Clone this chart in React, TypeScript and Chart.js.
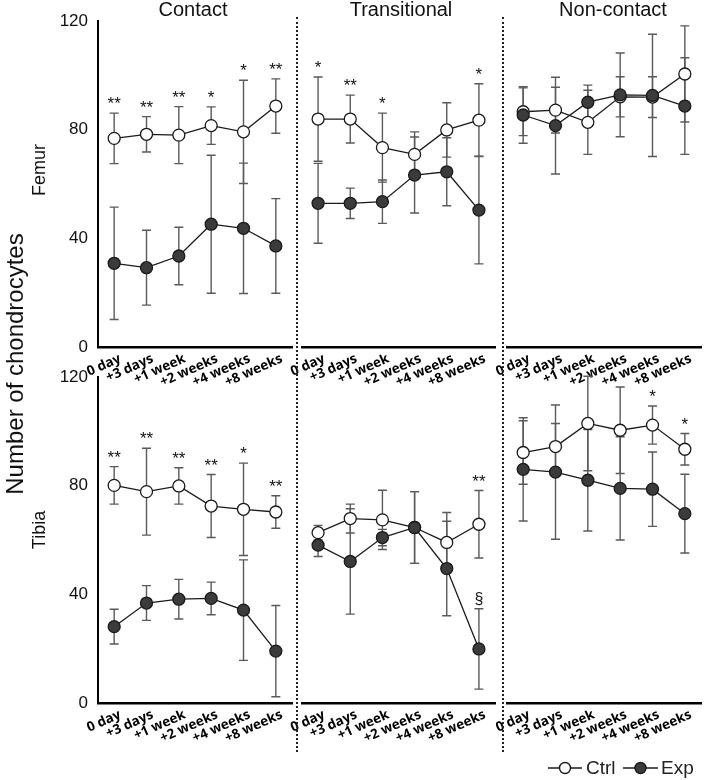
import React, { useEffect, useRef } from 'react';
import { Chart, registerables } from 'chart.js';

Chart.register(...registerables);

// ---------- data ----------
const categories = ['0 day', '+3 days', '+1 week', '+2 weeks', '+4 weeks', '+8 weeks'];
const yTickValues = [0, 40, 80, 120];
const columnTitles = ['Contact', 'Transitional', 'Non-contact'];
const rowTitles = ['Femur', 'Tibia'];
const seriesNames = ['Ctrl', 'Exp'];

// Femur
const femurContactCtrl = [76.8, 78.3, 78.0, 81.5, 79.2, 88.7];
const femurContactCtrlSd = [9.3, 6.5, 10.5, 6.9, 19.0, 10.0];
const femurContactExp = [30.8, 29.2, 33.5, 45.2, 43.7, 37.2];
const femurContactExpSd = [20.7, 13.8, 10.6, 25.4, 24.0, 17.4];
const femurContactSig = ['**', '**', '**', '*', '*', '**'];

const femurTransCtrl = [83.9, 83.9, 73.4, 70.9, 79.9, 83.5];
const femurTransCtrlSd = [15.5, 8.8, 12.7, 8.3, 10.0, 13.4];
const femurTransExp = [52.9, 52.9, 53.5, 63.3, 64.5, 50.4];
const femurTransExpSd = [14.7, 5.6, 8.0, 14.0, 12.5, 19.8];
const femurTransSig = ['*', '**', '*', '', '', '*'];

const femurNonCtrl = [86.6, 87.2, 82.7, 92.1, 92.0, 100.5];
const femurNonCtrlSd = [8.8, 8.4, 11.8, 7.4, 7.5, 17.7];
const femurNonExp = [85.4, 81.5, 90.1, 92.8, 92.6, 88.7];
const femurNonExpSd = [10.4, 17.8, 6.3, 15.4, 22.5, 17.8];
const femurNonSig = ['', '', '', '', '', ''];

// Tibia
const tibiaContactCtrl = [80.1, 77.8, 79.9, 72.5, 71.3, 70.3];
const tibiaContactCtrlSd = [6.9, 16.0, 6.7, 11.6, 17.0, 6.0];
const tibiaContactExp = [28.1, 36.8, 38.2, 38.5, 34.2, 19.1];
const tibiaContactExpSd = [6.4, 6.4, 7.3, 6.0, 18.5, 16.8];
const tibiaContactSig = ['**', '**', '**', '**', '*', '**'];

const tibiaTransCtrl = [62.7, 67.9, 67.4, 64.6, 59.1, 65.8];
const tibiaTransCtrlSd = [2.7, 5.3, 10.9, 13.2, 11.0, 12.4];
const tibiaTransExp = [58.1, 52.1, 60.9, 64.6, 49.5, 19.9];
const tibiaTransExpSd = [4.2, 19.4, 3.0, 13.2, 17.4, 14.8];
const tibiaTransSig = ['', '', '', '', '', '**'];
const tibiaTransExpSig = ['', '', '', '', '', '§'];

const tibiaNonCtrl = [92.2, 94.4, 102.9, 100.4, 102.3, 93.4];
const tibiaNonCtrlSd = [11.7, 8.5, 17.4, 15.9, 7.0, 5.8];
const tibiaNonExp = [86.0, 85.0, 82.0, 79.0, 78.7, 69.7];
const tibiaNonExpSd = [19.0, 24.7, 18.7, 19.0, 13.7, 14.5];
const tibiaNonSig = ['', '', '', '', '*', '*'];

const noSig = ['', '', '', '', '', ''];

// ---------- layout ----------
const W = 709;
const H = 780;
const COLS: [number, number][] = [[98, 292], [302, 495], [507, 701]];
const ROWS: [number, number][] = [[21, 347], [377, 703]];
const FONT = '"Liberation Sans", Arial, sans-serif';

type Panel = {
  row: number; col: number;
  ctrl: number[]; ctrlSd: number[]; exp: number[]; expSd: number[];
  sig: string[]; expSig: string[];
};

const PANELS: Panel[] = [
  { row: 0, col: 0, ctrl: femurContactCtrl, ctrlSd: femurContactCtrlSd, exp: femurContactExp, expSd: femurContactExpSd, sig: femurContactSig, expSig: noSig },
  { row: 0, col: 1, ctrl: femurTransCtrl, ctrlSd: femurTransCtrlSd, exp: femurTransExp, expSd: femurTransExpSd, sig: femurTransSig, expSig: noSig },
  { row: 0, col: 2, ctrl: femurNonCtrl, ctrlSd: femurNonCtrlSd, exp: femurNonExp, expSd: femurNonExpSd, sig: femurNonSig, expSig: noSig },
  { row: 1, col: 0, ctrl: tibiaContactCtrl, ctrlSd: tibiaContactCtrlSd, exp: tibiaContactExp, expSd: tibiaContactExpSd, sig: tibiaContactSig, expSig: noSig },
  { row: 1, col: 1, ctrl: tibiaTransCtrl, ctrlSd: tibiaTransCtrlSd, exp: tibiaTransExp, expSd: tibiaTransExpSd, sig: tibiaTransSig, expSig: tibiaTransExpSig },
  { row: 1, col: 2, ctrl: tibiaNonCtrl, ctrlSd: tibiaNonCtrlSd, exp: tibiaNonExp, expSd: tibiaNonExpSd, sig: tibiaNonSig, expSig: noSig },
];

const LINE = '#1a1a1a';
const EXP_FILL = '#3b3b3b';
const ERR = '#5a5a5a';

function makeChart(canvas: HTMLCanvasElement, p: Panel, withLegend: boolean) {
  const [c0, c1] = COLS[p.col];
  const [r0, r1] = ROWS[p.row];
  const showY = p.col === 0;

  const errorBars = {
    id: 'errorBars',
    beforeDatasetsDraw(chart: any) {
      const ctx = chart.ctx;
      const xs = chart.scales.x;
      const ys = chart.scales.y;
      ctx.save();
      ctx.strokeStyle = ERR;
      ctx.lineWidth = 1.4;
      const sets: [number[], number[]][] = [[p.ctrl, p.ctrlSd], [p.exp, p.expSd]];
      sets.forEach(([vals, sds]) => {
        vals.forEach((v, i) => {
          const x = xs.getPixelForValue(i);
          const yTop = ys.getPixelForValue(v + sds[i]);
          const yBot = ys.getPixelForValue(v - sds[i]);
          ctx.beginPath();
          ctx.moveTo(x, yTop); ctx.lineTo(x, yBot);
          ctx.moveTo(x - 4.5, yTop); ctx.lineTo(x + 4.5, yTop);
          ctx.moveTo(x - 4.5, yBot); ctx.lineTo(x + 4.5, yBot);
          ctx.stroke();
        });
      });
      ctx.restore();
    },
  };

  const labelsPlugin = {
    id: 'labelsPlugin',
    afterDraw(chart: any) {
      const ctx = chart.ctx;
      const xs = chart.scales.x;
      const ys = chart.scales.y;
      const bottom = chart.chartArea.bottom;
      ctx.save();
      // rotated category labels
      ctx.font = 'bold 13.5px "Open Sans", sans-serif';
      ctx.fillStyle = '#000';
      ctx.textAlign = 'right';
      ctx.textBaseline = 'middle';
      categories.forEach((lab, i) => {
        const x = xs.getPixelForValue(i);
        ctx.save();
        ctx.translate(x + 6, bottom + 11);
        ctx.rotate(-24 * Math.PI / 180);
        ctx.fillText(lab, 0, 0);
        ctx.restore();
      });
      // significance marks
      ctx.textAlign = 'center';
      ctx.textBaseline = 'alphabetic';
      p.sig.forEach((s, i) => {
        if (!s) return;
        const ub = Math.max(p.ctrl[i] + p.ctrlSd[i], p.exp[i] + p.expSd[i]);
        const x = xs.getPixelForValue(i);
        const y = ys.getPixelForValue(ub);
        ctx.font = `17px ${FONT}`;
        ctx.fillStyle = '#111';
        ctx.fillText(s, x, y - 4);
      });
      p.expSig.forEach((s, i) => {
        if (!s) return;
        const x = xs.getPixelForValue(i);
        const y = ys.getPixelForValue(p.exp[i] + p.expSd[i]);
        ctx.font = `16px ${FONT}`;
        ctx.fillStyle = '#111';
        ctx.fillText(s, x, y - 5);
      });
      // legend
      if (withLegend) {
        const ly = 768;
        const items = [
          { name: seriesNames[0], x0: 548, x1: 582, fill: '#fff', tx: 586 },
          { name: seriesNames[1], x0: 623, x1: 658, fill: EXP_FILL, tx: 661 },
        ];
        items.forEach((it) => {
          ctx.strokeStyle = LINE;
          ctx.lineWidth = 1.4;
          ctx.beginPath();
          ctx.moveTo(it.x0, ly); ctx.lineTo(it.x1, ly);
          ctx.stroke();
          ctx.beginPath();
          ctx.arc((it.x0 + it.x1) / 2, ly, 5.5, 0, Math.PI * 2);
          ctx.fillStyle = it.fill;
          ctx.fill();
          ctx.stroke();
          ctx.fillStyle = '#222';
          ctx.font = `19px ${FONT}`;
          ctx.textAlign = 'left';
          ctx.textBaseline = 'middle';
          ctx.fillText(it.name, it.tx, ly + 1);
        });
      }
      ctx.restore();
    },
  };

  return new Chart(canvas, {
    type: 'line',
    data: {
      labels: categories,
      datasets: [
        {
          label: seriesNames[0], data: p.ctrl, order: 1,
          borderColor: LINE, borderWidth: 1.3, tension: 0, fill: false,
          pointRadius: 6, pointBorderWidth: 1.3, pointBackgroundColor: '#fff', pointBorderColor: LINE,
        },
        {
          label: seriesNames[1], data: p.exp, order: 0,
          borderColor: LINE, borderWidth: 1.3, tension: 0, fill: false,
          pointRadius: 6, pointBorderWidth: 1.3, pointBackgroundColor: EXP_FILL, pointBorderColor: LINE,
        },
      ],
    },
    options: {
      responsive: false,
      maintainAspectRatio: false,
      animation: false,
      events: [],
      devicePixelRatio: 1,
      layout: { padding: { left: showY ? 0 : c0, right: W - c1, top: r0, bottom: H - r1 } },
      plugins: { legend: { display: false }, tooltip: { enabled: false } },
      scales: {
        x: {
          type: 'category',
          offset: true,
          grid: { display: true, color: 'rgba(0,0,0,0)', drawTicks: false },
          border: { display: true, color: '#000', width: 2.5 },
          ticks: { display: false },
          afterFit: (s: any) => { s.height = 0; },
        },
        y: {
          min: 0, max: 120,
          display: showY,
          afterBuildTicks: (s: any) => { s.ticks = yTickValues.map((v) => ({ value: v })); },
          ticks: { padding: 10, color: '#111', font: { size: 17, family: FONT } },
          grid: { display: true, color: 'rgba(0,0,0,0)', drawTicks: false },
          border: { display: true, color: '#000', width: 2 },
          afterFit: (s: any) => { s.width = showY ? c0 : 0; },
        },
      },
    } as any,
    plugins: [errorBars, labelsPlugin],
  });
}

const txt = (extra: React.CSSProperties): React.CSSProperties => ({
  position: 'absolute', fontFamily: FONT, color: '#111', lineHeight: 1, whiteSpace: 'nowrap', ...extra,
});

export default function App() {
  const refs = useRef<(HTMLCanvasElement | null)[]>([]);

  useEffect(() => {
    const charts = PANELS.map((p, i) => makeChart(refs.current[i] as HTMLCanvasElement, p, i === PANELS.length - 1));
    return () => charts.forEach((c) => c.destroy());
  }, []);

  const titleX = [193, 401, 613];
  const rowY = [170, 530];

  return (
    <div style={{ position: 'absolute', left: 0, top: 0, width: W, height: H, background: '#fff', overflow: 'hidden' }}>
      {PANELS.map((_, i) => (
        <canvas
          key={i}
          ref={(el) => { refs.current[i] = el; }}
          width={W}
          height={H}
          style={{ position: 'absolute', left: 0, top: 0, width: W, height: H }}
        />
      ))}
      {/* dotted separators */}
      <div style={{ position: 'absolute', left: 296, top: 17, height: 735, borderLeft: '2px dotted #222' }} />
      <div style={{ position: 'absolute', left: 502, top: 17, height: 735, borderLeft: '2px dotted #222' }} />
      {/* column titles */}
      {columnTitles.map((t, i) => (
        <div key={t} style={txt({ left: titleX[i], top: 9, fontSize: 20, transform: 'translate(-50%,-50%)' })}>{t}</div>
      ))}
      {/* row titles */}
      {rowTitles.map((t, i) => (
        <div key={t} style={txt({ left: 38.5, top: rowY[i], fontSize: 18, transform: 'translate(-50%,-50%) rotate(-90deg)' })}>{t}</div>
      ))}
      {/* y axis title */}
      <div style={txt({ left: 15, top: 364, fontSize: 24, transform: 'translate(-50%,-50%) rotate(-90deg)' })}>
        Number of chondrocytes
      </div>
    </div>
  );
}
